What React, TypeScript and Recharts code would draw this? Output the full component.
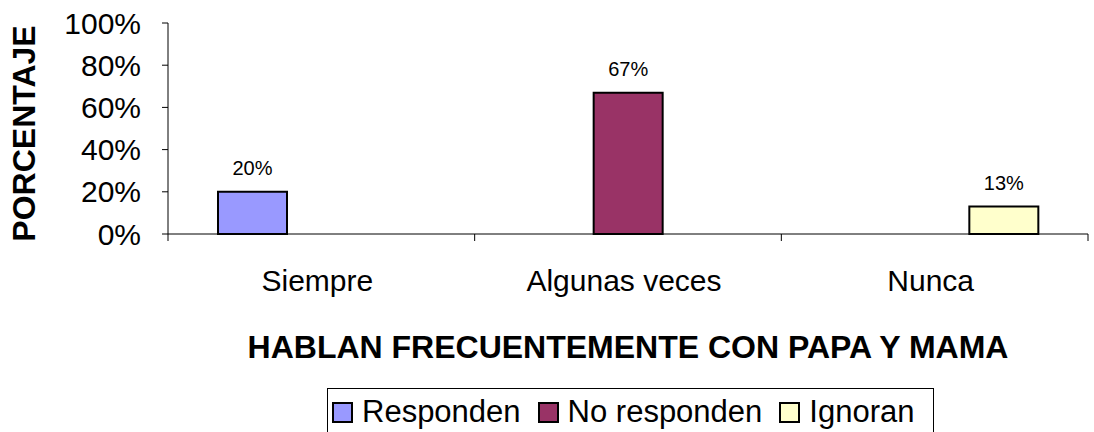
import { BarChart, Bar, XAxis, YAxis, LabelList, Label } from 'recharts'

const categories = ['Siempre', 'Algunas veces', 'Nunca']
const seriesNames = ['Responden', 'No responden', 'Ignoran']
const seriesColors = ['#9999FF', '#993366', '#FFFFCC']
// one value per category, the other series are empty there
const responden = [0.2, null, null]
const noResponden = [null, 0.67, null]
const ignoran = [null, null, 0.13]
const yTicks = [0, 0.2, 0.4, 0.6, 0.8, 1]

const FONT = '"Liberation Sans", Arial, sans-serif'

const data = categories.map((name, i) => ({
  name,
  s0: responden[i],
  s1: noResponden[i],
  s2: ignoran[i],
}))

const pct = (v: number) => `${Math.round(v * 100)}%`

function CategoryTick(props: any) {
  const { x, y, payload, index } = props
  const half = payload?.offset ?? 920 / 6
  return (
    <g>
      <line x1={x - half} y1={y} x2={x - half} y2={y + 7} stroke="#000" />
      {index === categories.length - 1 && (
        <line x1={x + half} y1={y} x2={x + half} y2={y + 7} stroke="#000" />
      )}
      <text x={x - 4} y={y + 57} textAnchor="middle" fontSize={30} fontFamily={FONT} fill="#000">
        {payload.value}
      </text>
    </g>
  )
}

function XTitle(props: any) {
  const vb = props.viewBox
  return (
    <text x={vb.x + vb.width / 2} y={vb.y + 124} textAnchor="middle" fontSize={32}
      fontWeight="bold" fontFamily={FONT} fill="#000">
      HABLAN FRECUENTEMENTE CON PAPA Y MAMA
    </text>
  )
}

function YTitle(props: any) {
  const vb = props.viewBox
  const cx = vb.x + 35
  const cy = vb.y + vb.height / 2 + 5
  return (
    <text x={cx} y={cy} transform={`rotate(-90 ${cx} ${cy})`} textAnchor="middle"
      fontSize={32} fontWeight="bold" fontFamily={FONT} fill="#000">
      PORCENTAJE
    </text>
  )
}

export default function App() {
  return (
    <div style={{ position: 'fixed', left: 0, top: 0, width: 1094, height: 432, overflow: 'hidden', background: '#fff' }}>
      <BarChart
        width={1094}
        height={432}
        data={data}
        margin={{ top: 23, right: 6, left: 0, bottom: 68 }}
        barCategoryGap={50}
        barGap={0}
      >
        <XAxis
          dataKey="name"
          height={130}
          axisLine={{ stroke: '#000' }}
          tickLine={false}
          tickSize={0}
          tickMargin={0}
          tick={<CategoryTick />}
          interval={0}
        >
          <Label content={<XTitle />} />
        </XAxis>
        <YAxis
          width={168}
          domain={[0, 1]}
          ticks={yTicks}
          tickFormatter={pct}
          axisLine={{ stroke: '#000' }}
          tickLine={{ stroke: '#000' }}
          tickSize={6}
          tickMargin={21}
          tick={{ fontSize: 30, fontFamily: FONT, fill: '#000' }}
        >
          <Label content={<YTitle />} />
        </YAxis>
        {['s0', 's1', 's2'].map((key, i) => (
          <Bar key={key} dataKey={key} name={seriesNames[i]} fill={seriesColors[i]}
            stroke="#000" strokeWidth={2} isAnimationActive={false}>
            <LabelList
              dataKey={key}
              position="top"
              offset={17}
              fontSize={20}
              fontFamily={FONT}
              fill="#000"
              formatter={(v: any) => (v == null ? '' : pct(v))}
            />
          </Bar>
        ))}
      </BarChart>
      <div style={{
        position: 'absolute', left: 327, top: 388, width: 607, height: 80,
        border: '1px solid #000', boxSizing: 'border-box', background: '#fff',
      }}>
        <div style={{ display: 'flex', alignItems: 'center', height: 36, marginTop: 5, paddingLeft: 4 }}>
          {seriesNames.map((name, i) => (
            <div key={name} style={{ display: 'flex', alignItems: 'center', marginRight: 17 }}>
              <span style={{
                display: 'inline-block', width: 21, height: 21, boxSizing: 'border-box',
                border: '2px solid #000', background: seriesColors[i], marginRight: 9,
              }} />
              <span style={{ fontFamily: FONT, fontSize: 31, color: '#000', whiteSpace: 'nowrap' }}>{name}</span>
            </div>
          ))}
        </div>
      </div>
    </div>
  )
}
